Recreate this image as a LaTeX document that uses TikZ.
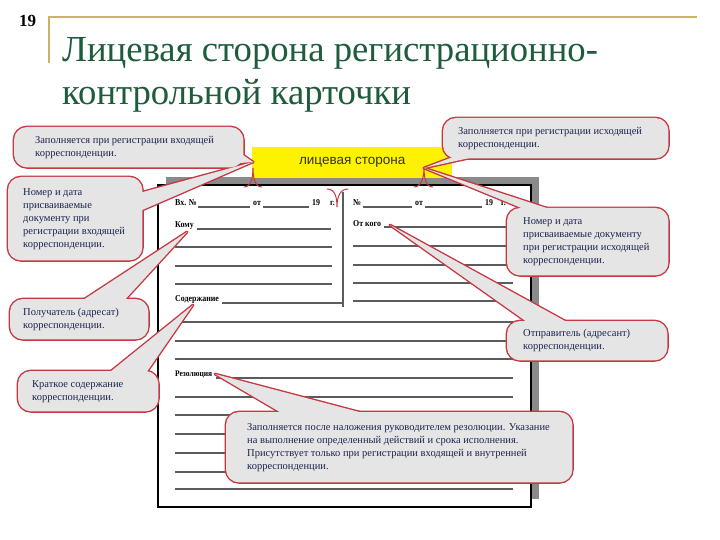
\documentclass[tikz,border=0pt]{standalone}
\usepackage{fontspec}
\setmainfont{Liberation Serif}
\newfontfamily\facefont{Liberation Sans}
\newfontfamily\formfont[FakeStretch=0.88]{Liberation Serif}
\usetikzlibrary{calc}
\definecolor{goldline}{RGB}{204,178,102}
\definecolor{titlegreen}{RGB}{30,92,60}
\definecolor{cred}{RGB}{198,56,66}
\definecolor{cgray}{RGB}{229,229,229}
\definecolor{ctxt}{RGB}{28,36,78}
\definecolor{fline}{RGB}{92,92,92}
\definecolor{shadowgray}{RGB}{138,138,138}
\pgfdeclarelayer{cardlayer}
\pgfdeclarelayer{cstroke}
\pgfdeclarelayer{cfill}
\pgfsetlayers{cardlayer,cstroke,cfill,main}
\newcommand\mycallout[4]{%
  \begin{pgfonlayer}{cstroke}
    \draw[cline,rounded corners=13pt] (#1.north west) rectangle (#1.south east);
    \draw[cline] (#2) -- (#4) -- (#3);
  \end{pgfonlayer}
  \begin{pgfonlayer}{cfill}
    \fill[cgray,rounded corners=13pt] (#1.north west) rectangle (#1.south east);
    \fill[cgray] (#2) -- (#4) -- (#3) -- cycle;
  \end{pgfonlayer}}
\begin{document}
\begin{tikzpicture}[x=1pt,y=-1pt,
  cbox/.style={anchor=north west, inner sep=0pt, draw=none, fill=none},
  cline/.style={draw=cred, line width=2.8pt, line join=round},
  ctext/.style={anchor=west, align=left, inner sep=0pt, text=ctxt, font=\fontsize{10.5pt}{13pt}\selectfont},
  ftext/.style={anchor=base west, inner sep=0pt, font=\formfont\fontsize{9pt}{10pt}\selectfont\bfseries},
  fl/.style={draw=fline, line width=1.5pt},
  bracel/.style={draw=cred, line width=1pt},
  titletext/.style={anchor=base west, inner sep=0pt, text=titlegreen, font=\fontsize{36.7pt}{40pt}\selectfont}]
\useasboundingbox (0,0) rectangle (720,540);

% header
\node[anchor=base west, inner sep=0pt, font=\fontsize{17pt}{17pt}\selectfont\bfseries] (num) at (19,27) {19};
\draw[goldline, line width=2pt] (48,17) -- (697,17);
\draw[goldline, line width=2.6pt] (49,17) -- (49,63);
\node[titletext] (title1) at (62,62) {Лицевая сторона регистрационно-};
\node[titletext] (title2) at (62,105) {контрольной карточки};

% card
\begin{pgfonlayer}{cardlayer}
\fill[white] (0,0) rectangle (720,540);
\fill[shadowgray] (166,177) rectangle (539,499);
\filldraw[fill=white, draw=black, line width=1.2pt] (158,185) rectangle (531,507);
\node[ftext] (vx) at (175,206) {Вх. №};
\draw[fl] (198,207) -- (250,207);
\node[ftext] (ot1) at (253,206) {от};
\draw[fl] (263,207) -- (309,207);
\node[ftext] (y1) at (312,206) {19};
\node[ftext] (g1) at (330,206) {г.};
\node[ftext] (no2) at (353,206) {№};
\draw[fl] (363,207) -- (412,207);
\node[ftext] (ot2) at (415,206) {от};
\draw[fl] (425,207) -- (482,207);
\node[ftext] (y2) at (485,206) {19};
\node[ftext] (g2) at (501,206) {г.};
\node[ftext] (komu) at (175,227) {Кому};
\draw[fl] (197,229) -- (331,229);
\foreach \yy in {247,266,284} \draw[fl] (175,\yy) -- (332,\yy);
\node[ftext] (sod) at (175,301) {Содержание};
\draw[fl] (222,303) -- (343,303);
\node[ftext] (otkogo) at (353,226) {От кого};
\draw[fl] (384,227) -- (510,227);
\foreach \yy in {246,265} \draw[fl] (353,\yy) -- (508,\yy);
\foreach \yy in {283,301} \draw[fl] (353,\yy) -- (513,\yy);
\draw[fl] (343,192) -- (343,307);
\foreach \yy in {322,341,359} \draw[fl] (175,\yy) -- (513,\yy);
\node[ftext, font=\formfont\fontsize{8.5pt}{10pt}\selectfont\bfseries] (rez) at (175,376) {Резолюция};
\draw[fl] (216,378) -- (513,378);
\foreach \yy in {397,415,434,453,472,489} \draw[fl] (175,\yy) -- (513,\yy);
\node[fill=yellow, anchor=north west, inner sep=0pt, minimum width=200pt, minimum height=31pt,
      font=\facefont\fontsize{13.5pt}{14pt}\selectfont, text=black!80] (face) at (252,147) {лицевая сторона};
\draw[bracel] (244,187) .. controls (251,187) and (253,178) .. (253,168) .. controls (253,178) and (255,187) .. (262,187);
\draw[bracel] (414,187) .. controls (421,187) and (424,178) .. (424,168) .. controls (424,178) and (426,187) .. (433,187);
\draw[bracel] (327,189) .. controls (335,189) and (337,197) .. (337,207) .. controls (337,197) and (340,189) .. (348,189);
\end{pgfonlayer}

% tips
\coordinate (tipL) at (253,162);
\coordinate (tipR) at (424,168);
\coordinate (tipKomu) at (187,232);
\coordinate (tipSod) at (193,305);
\coordinate (tipOtkogo) at (390,225);
\coordinate (tipRez) at (215,374);

% callouts
\node[cbox, minimum width=229pt, minimum height=40pt] (c1) at (14,127) {};
\mycallout{c1}{$(c1.south east)+(-7,-17)$}{$(c1.south east)+(-9,-4)$}{tipL}
\node[ctext] (c1t) at ([xshift=21pt]c1.west) {Заполняется при регистрации входящей\\корреспонденции.};

\node[cbox, minimum width=134pt, minimum height=83pt] (c2) at (8,177) {};
\mycallout{c2}{$(c2.north east)+(-7,17)$}{$(c2.north east)+(-7,36)$}{tipL}
\node[ctext] (c2t) at ([xshift=15pt]c2.west) {Номер и дата\\присваиваемые\\документу при\\регистрации входящей\\корреспонденции.};

\node[cbox, minimum width=138pt, minimum height=40pt] (c3) at (10,299) {};
\mycallout{c3}{$(c3.north west)+(67,5)$}{$(c3.north west)+(111,5)$}{tipKomu}
\node[ctext] (c3t) at ([xshift=13pt]c3.west) {Получатель (адресат)\\корреспонденции.};

\node[cbox, minimum width=140pt, minimum height=40pt] (c4) at (18,371) {};
\mycallout{c4}{$(c4.north west)+(87,5)$}{$(c4.north west)+(126,5)$}{tipSod}
\node[ctext] (c4t) at ([xshift=14pt]c4.west) {Краткое содержание\\корреспонденции.};

\node[cbox, minimum width=225pt, minimum height=40pt] (c5) at (443,118) {};
\mycallout{c5}{$(c5.south west)+(22,-6)$}{$(c5.south west)+(52,-6)$}{tipR}
\node[ctext] (c5t) at ([xshift=15pt]c5.west) {Заполняется при регистрации исходящей\\корреспонденции.};

\node[cbox, minimum width=161pt, minimum height=67pt] (c6) at (507,208) {};
\mycallout{c6}{$(c6.north west)+(29,6)$}{$(c6.north west)+(58,6)$}{tipR}
\node[ctext] (c6t) at ([xshift=16pt]c6.west) {Номер и дата\\присваиваемые документу\\при регистрации исходящей\\корреспонденции.};

\node[cbox, minimum width=160pt, minimum height=39pt] (c7) at (507,321) {};
\mycallout{c7}{$(c7.north west)+(27,6)$}{$(c7.north west)+(69,6)$}{tipOtkogo}
\node[ctext] (c7t) at ([xshift=16pt]c7.west) {Отправитель (адресант)\\корреспонденции.};

\node[cbox, minimum width=346pt, minimum height=70pt] (c8) at (226,412) {};
\mycallout{c8}{$(c8.north west)+(64,6)$}{$(c8.north west)+(156,6)$}{tipRez}
\node[ctext] (c8t) at ([xshift=21pt]c8.west) {Заполняется после наложения руководителем резолюции. Указание\\на выполнение определенный действий и срока исполнения.\\Присутствует только при регистрации входящей и внутренней\\корреспонденции.};
\end{tikzpicture}
\end{document}
